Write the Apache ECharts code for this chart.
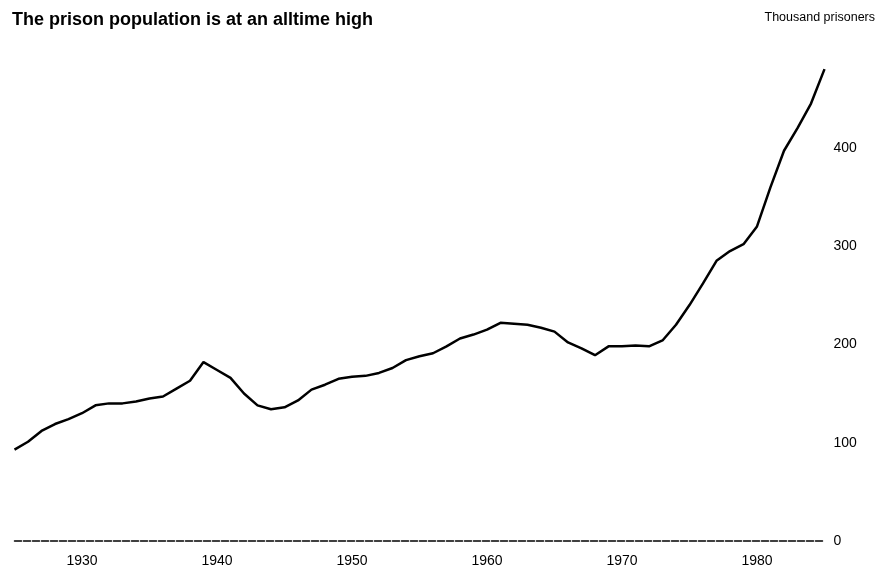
<!DOCTYPE html>
<html>
<head>
<meta charset="utf-8">
<script src="https://cdn.jsdelivr.net/npm/echarts@6/dist/echarts.min.js"></script>
<style>
  html, body { margin: 0; padding: 0; background: #fff; }
  #chart { width: 885px; height: 572px; }
</style>
</head>
<body>
<div id="chart"></div>
<script>
// years and prisoner counts (thousands)
const years = [1925, 1926, 1927, 1928, 1929, 1930, 1931, 1932, 1933, 1934,
  1935, 1936, 1937, 1938, 1939, 1940, 1941, 1942, 1943, 1944,
  1945, 1946, 1947, 1948, 1949, 1950, 1951, 1952, 1953, 1954,
  1955, 1956, 1957, 1958, 1959, 1960, 1961, 1962, 1963, 1964,
  1965, 1966, 1967, 1968, 1969, 1970, 1971, 1972, 1973, 1974,
  1975, 1976, 1977, 1978, 1979, 1980, 1981, 1982, 1983, 1984, 1985];
const prisoners = [93, 101, 112, 119, 124, 130, 138, 140, 140, 142,
  145, 147, 155, 163, 182, 174, 166, 150, 138, 134,
  136, 143, 154, 159, 165, 167, 168, 171, 176, 184,
  188, 191, 198, 206, 210, 215, 222, 221, 220, 217,
  213, 202, 196, 189, 198, 198, 199, 198, 204, 220,
  240, 262, 285, 295, 302, 320, 360, 397, 420, 445, 480];
const xTickLabels = [1930, 1940, 1950, 1960, 1970, 1980];
const yTickLabels = [0, 100, 200, 300, 400];

const chart = echarts.init(document.getElementById('chart'));
const font = '"Liberation Sans", Arial, sans-serif';

chart.setOption({
  animation: false,
  title: [
    {
      text: 'The prison population is at an alltime high',
      left: 7, top: 6,
      textStyle: { fontFamily: font, fontSize: 18, fontWeight: 'bold', color: '#000' }
    },
    {
      text: 'Thousand prisoners',
      right: 5, top: 6,
      textStyle: { fontFamily: font, fontSize: 12.5, fontWeight: 'normal', color: '#000' }
    }
  ],
  grid: { left: 14.5, right: 60.5, top: 49.5, bottom: 31 },
  xAxis: {
    type: 'value',
    min: 1925, max: 1985, interval: 5,
    axisLine: { show: true, lineStyle: { color: '#000', width: 1.5, type: [7, 2] } },
    axisTick: { show: false },
    splitLine: { show: false },
    axisLabel: {
      fontFamily: font, fontSize: 14, color: '#000', margin: 13,
      formatter: v => xTickLabels.includes(v) ? String(v) : ''
    }
  },
  yAxis: {
    type: 'value',
    position: 'right',
    min: 0, max: 500, interval: 100,
    axisLine: { show: false },
    axisTick: { show: false },
    splitLine: { show: false },
    axisLabel: {
      fontFamily: font, fontSize: 14, color: '#000', margin: 9,
      showMaxLabel: false,
      formatter: v => yTickLabels.includes(v) ? String(v) : ''
    }
  },
  series: [{
    type: 'line',
    data: years.map((y, i) => [y, prisoners[i]]),
    showSymbol: false,
    clip: false,
    lineStyle: { color: '#000', width: 2.5 }
  }]
});
</script>
</body>
</html>
